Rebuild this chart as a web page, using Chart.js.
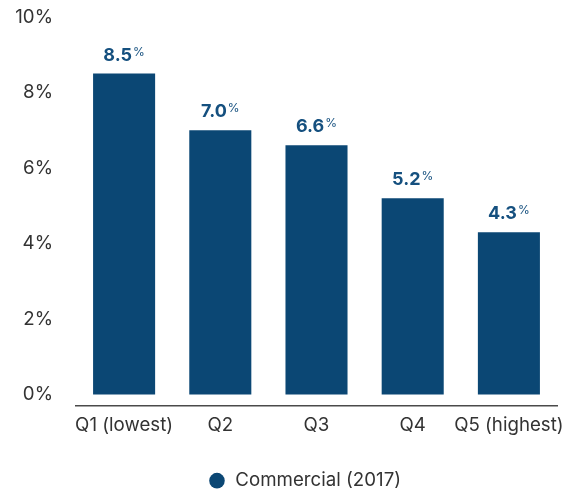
<!DOCTYPE html>
<html>
<head>
<meta charset="utf-8">
<script src="https://cdn.jsdelivr.net/npm/chart.js@4"></script>
<style>
  html, body { margin: 0; padding: 0; background: #fff; overflow: hidden; }
  #wrap { width: 578px; height: 489px; }
</style>
</head>
<body>
<div id="wrap"><canvas id="chart" width="578" height="489"></canvas></div>
<script>
// ------------------------
// DATA
// ------------------------
const categories = ['Q1 (lowest)', 'Q2', 'Q3', 'Q4', 'Q5 (highest)'];
const seriesName = 'Commercial (2017)';
const values = [8.5, 7.0, 6.6, 5.2, 4.3];
const yTicks = [0, 2, 4, 6, 8, 10];

const FONT = 'Inter, "Open Sans", sans-serif';
const barColor = '#0b4774';
const labelColor = '#15507f';
const textColor = '#333333';

// value labels above bars, with a small raised "%"
const valueLabels = {
    id: 'valueLabels',
    afterDatasetsDraw(chart) {
        const ctx = chart.ctx;
        const meta = chart.getDatasetMeta(0);
        ctx.save();
        ctx.fillStyle = labelColor;
        ctx.textBaseline = 'alphabetic';
        ctx.textAlign = 'left';
        meta.data.forEach((bar, i) => {
            const num = values[i].toFixed(1);
            ctx.font = 'bold 18px ' + FONT;
            const wNum = ctx.measureText(num).width;
            ctx.font = '12px ' + FONT;
            const wPct = ctx.measureText('%').width;
            const x0 = bar.x - (wNum + wPct + 1) / 2;
            const base = bar.y - 13;
            ctx.font = 'bold 18px ' + FONT;
            ctx.fillText(num, x0, base);
            ctx.font = '12px ' + FONT;
            ctx.fillText('%', x0 + wNum + 1, base - 5);
        });
        ctx.restore();
    }
};

// the legend in the reference sits a bit right of the canvas centre
const legendShift = {
    id: 'legendShift',
    afterLayout(chart) {
        if (chart.legend) chart.legend.left += 52;
    }
};

new Chart(document.getElementById('chart').getContext('2d'), {
    type: 'bar',
    data: {
        labels: categories,
        datasets: [{
            label: seriesName,
            data: values,
            backgroundColor: barColor,
            borderWidth: 0,
            categoryPercentage: 1,
            barPercentage: 0.645
        }]
    },
    options: {
        responsive: false,
        animation: false,
        layout: { padding: { top: 17, right: 21, bottom: -11, left: 0 } },
        scales: {
            x: {
                grid: { display: false, drawTicks: false },
                border: { display: true, color: '#4a4a4a', width: 1.5 },
                ticks: { color: textColor, font: { family: FONT, size: 18.7 }, padding: 8, maxRotation: 0, autoSkip: false },
                afterFit(scale) { scale.height = 55.5; }
            },
            y: {
                min: -0.3,
                max: 10,
                grid: { display: false, drawTicks: false },
                border: { display: false },
                afterBuildTicks(scale) { scale.ticks = yTicks.map(v => ({ value: v })); },
                ticks: {
                    color: textColor,
                    font: { family: FONT, size: 18.7 },
                    padding: 23,
                    callback: v => v + '%'
                },
                afterFit(scale) {
                    scale.width = 76;
                    scale.paddingTop = 0;
                    scale.paddingBottom = 0;
                }
            }
        },
        plugins: {
            legend: {
                position: 'bottom',
                labels: {
                    usePointStyle: true,
                    pointStyle: 'circle',
                    boxWidth: 18,
                    boxHeight: 11,
                    padding: 10,
                    color: textColor,
                    font: { family: FONT, size: 18.7 }
                }
            },
            tooltip: { enabled: false }
        }
    },
    plugins: [valueLabels, legendShift]
});
</script>
</body>
</html>
